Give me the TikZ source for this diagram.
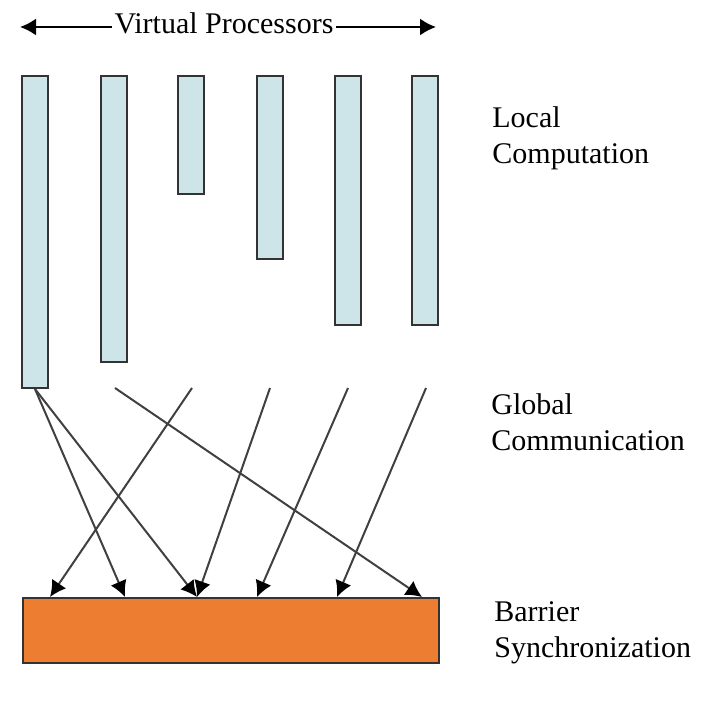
\documentclass[tikz,border=0pt]{standalone}
\usepackage{fontspec}
\setmainfont{Liberation Serif}
\usepackage{tikz}
\usetikzlibrary{arrows.meta,positioning}
\definecolor{procblue}{RGB}{205, 229, 233}
\definecolor{syncorange}{RGB}{237, 125, 49}
\tikzstyle{proc} = [rectangle, draw=black!80, line width=1pt, fill=procblue, inner sep=0pt, minimum width=13pt, anchor=north]
\tikzstyle{sync} = [rectangle, draw=black!80, line width=1pt, fill=syncorange, inner sep=0pt, minimum width=208pt, minimum height=32.5pt, anchor=north west]
\tikzstyle{phase} = [align=left, inner sep=0pt, anchor=north west, font=\fontsize{15}{18}\selectfont]
\tikzstyle{tedge} = [draw, line width=1pt, black!75, -{Latex[length=8pt,width=8.5pt,color=black]}]

\begin{document}
\begin{tikzpicture}[x=0.5pt, y=-0.5pt]
\useasboundingbox (0,0) rectangle (718,702);

% processors =============================

% title
\node[phase, anchor=base, inner sep=1pt] (vp) at (224,33) {Virtual Processors};
\coordinate (vpl) at (20,27);
\coordinate (vpr) at (436,27);

% bars
\node[proc, minimum height=156pt] (p1) at (35,75) {};
\node[proc, minimum height=143pt] (p2) at (113.5,75) {};
\node[proc, minimum height=59pt] (p3) at (191,75) {};
\node[proc, minimum height=91.5pt] (p4) at (270,75) {};
\node[proc, minimum height=124.5pt] (p5) at (348,75) {};
\node[proc, minimum height=124.5pt] (p6) at (425,75) {};

% barrier
\node[sync] (bar) at (22,597) {};

% phases
\node[phase] (local) at (492,106.5) {Local\\Computation};
\node[phase] (global) at (491,393.5) {Global\\Communication};
\node[phase] (barrier) at (494,601.5) {Barrier\\Synchronization};

% message ends
\coordinate (s2) at (115,388);
\coordinate (s3) at (192,388);
\coordinate (s4) at (270,388);
\coordinate (s5) at (348,388);
\coordinate (s6) at (426,388);

\coordinate (t1) at (50,597);
\coordinate (t2) at (125,597);
\coordinate (t3) at (197,597);
\coordinate (t4) at (257,597);
\coordinate (t5) at (337,597);
\coordinate (t6) at (422,597);

%edges
\path[tedge, black] (vp.west |- vpl) -- (vpl);
\path[tedge, black] (vp.east |- vpr) -- (vpr);

\path[tedge] (p1.south) -- (t2);
\path[tedge] (p1.south) -- (t3);
\path[tedge] (s2) -- (t6);
\path[tedge] (s3) -- (t1);
\path[tedge] (s4) -- (t3);
\path[tedge] (s5) -- (t4);
\path[tedge] (s6) -- (t5);

\end{tikzpicture}
\end{document}
